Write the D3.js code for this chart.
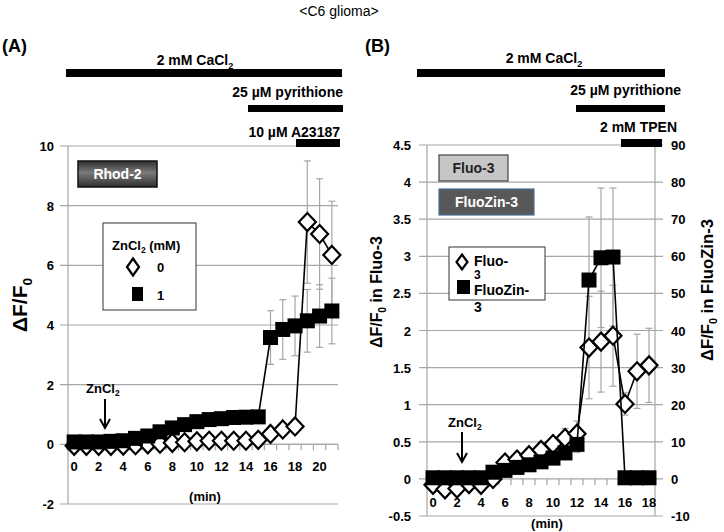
<!DOCTYPE html>
<html><head><meta charset="utf-8">
<script src="https://cdn.jsdelivr.net/npm/d3@7"></script>
<style>body{margin:0;background:#fff}svg{display:block}text{font-family:"Liberation Sans",Arial,sans-serif}</style>
</head><body><div id="chart"></div>
<script>
// ---------- DATA ----------
const timeA = [0,1,2,3,4,5,6,7,8,9,10,11,12,13,14,15,16,17,18,19,20,21];
const zn0 = [-0.05,-0.05,-0.05,-0.05,-0.04,-0.03,0,0.02,0.05,0.07,0.1,0.12,0.12,0.12,0.12,0.15,0.35,0.5,0.6,7.45,7.05,6.35];
const zn0Err = [0,0,0,0,0,0,0,0,0,0,0,0,0,0,0,0,0,0,0,2.05,1.85,1.8];
const zn1 = [0.08,0.08,0.08,0.1,0.12,0.2,0.28,0.42,0.55,0.66,0.76,0.83,0.86,0.9,0.91,0.92,3.58,3.85,3.97,4.14,4.3,4.47];
const zn1Err = [0,0,0,0,0,0,0,0,0,0,0,0,0,0,0,0,0.9,1.0,1.0,1.05,1.05,1.1];
const ticksA = [-2,0,2,4,6,8,10];
const xLabelsA = [0,2,4,6,8,10,12,14,16,18,20];

const timeB = [0,1,2,3,4,5,6,7,8,9,10,11,12,13,14,15,16,17,18];
const fluo3 = [-0.08,-0.14,-0.13,-0.07,-0.08,0,0.22,0.26,0.32,0.39,0.47,0.55,0.61,1.77,1.85,1.93,1.01,1.45,1.53];
const fluo3Err = [0,0,0,0,0,0,0,0,0,0.05,0.08,0.13,0.17,0.69,0.68,0.68,0.15,0.5,0.5];
const fluoZin3 = [0.3,0.3,0.3,0.3,0.3,1.8,2.3,3.1,3.8,4.6,5.6,7.0,9.3,53.6,59.6,59.8,0.3,0.3,0.3];
const fluoZin3Err = [0,0,0,0,0,0,0,0,0,0,1.2,1.6,2.2,17,18.8,18.6,0.3,0.3,0.3];
const ticksBL = [-0.5,0,0.5,1,1.5,2,2.5,3,3.5,4,4.5];
const ticksBR = [-10,0,10,20,30,40,50,60,70,80,90];
const xLabelsB = [0,2,4,6,8,10,12,14,16,18];

// ---------- SETUP ----------
const W = 724, H = 532;
const svg = d3.select("#chart").append("svg").attr("width", W).attr("height", H);
const GRID = "#a6a6a6", ERR = "#a6a6a6";
const defs = svg.append("defs");
const g1 = defs.append("linearGradient").attr("id","rhod").attr("x1",0).attr("y1",0).attr("x2",0).attr("y2",1);
g1.append("stop").attr("offset","0%").attr("stop-color","#2e2e2e");
g1.append("stop").attr("offset","45%").attr("stop-color","#7a7a7a");
g1.append("stop").attr("offset","100%").attr("stop-color","#2e2e2e");

function txt(x, y, s, opt = {}) {
  const t = svg.append("text").attr("x", x).attr("y", y)
    .attr("font-size", opt.size || 13).attr("font-weight", opt.weight || "bold")
    .attr("fill", opt.fill || "#000").attr("text-anchor", opt.anchor || "start");
  if (opt.rotate) t.attr("transform", `rotate(-90,${x},${y})`);
  if (opt.len) t.attr("textLength", opt.len).attr("lengthAdjust", "spacingAndGlyphs");
  return t.text(s);
}
function txtSub(x, y, main, sub, after, opt = {}) {
  const t = svg.append("text").attr("x", x).attr("y", y)
    .attr("font-size", opt.size || 13).attr("font-weight", "bold")
    .attr("fill", opt.fill || "#000").attr("text-anchor", opt.anchor || "start");
  if (opt.rotate) t.attr("transform", `rotate(-90,${x},${y})`);
  if (opt.len) t.attr("textLength", opt.len).attr("lengthAdjust", "spacingAndGlyphs");
  t.append("tspan").text(main);
  t.append("tspan").attr("font-size", (opt.size || 13) * 0.65).attr("dy", (opt.size || 13) * 0.25).text(sub);
  if (after) t.append("tspan").attr("dy", -(opt.size || 13) * 0.25).text(after);
  return t;
}
function bar(x1, x2, y, h) {
  svg.append("rect").attr("x", x1).attr("y", y).attr("width", x2 - x1).attr("height", h).attr("fill", "#000");
}
function diamond(g, cx, cy, w, h) {
  g.append("path").attr("d", `M${cx},${cy - h/2}L${cx + w/2},${cy}L${cx},${cy + h/2}L${cx - w/2},${cy}Z`)
    .attr("fill", "#fff").attr("stroke", "#000").attr("stroke-width", 2.2);
}
function arrow(x, y1, y2) {
  svg.append("line").attr("x1", x).attr("x2", x).attr("y1", y1).attr("y2", y2 - 2).attr("stroke", "#000").attr("stroke-width", 2);
  svg.append("path").attr("d", `M${x - 5},${y2 - 9}L${x},${y2}L${x + 5},${y2 - 9}`).attr("fill", "none").attr("stroke", "#000").attr("stroke-width", 2);
}

// Title
txt(339, 16, "<C6 glioma>", {size: 14, weight: "normal", anchor: "middle"});

// ---------- PANEL A ----------
const xA = d3.scaleBand().domain(timeA).range([68, 338]);
const cxA = d => xA(d) + xA.bandwidth() / 2;
const yA = d3.scaleLinear().domain([-2, 10]).range([504, 146]);
const gA = svg.append("g");

ticksA.forEach(t => {
  gA.append("line").attr("x1", 60).attr("x2", 338).attr("y1", yA(t)).attr("y2", yA(t)).attr("stroke", GRID).attr("stroke-width", 1.2);
  txt(54, yA(t) + 5, String(t), {anchor: "end"});
});
gA.append("line").attr("x1", 68).attr("x2", 68).attr("y1", yA(10)).attr("y2", yA(-2)).attr("stroke", GRID).attr("stroke-width", 1.2);
gA.append("line").attr("x1", 68).attr("x2", 338).attr("y1", yA(0)).attr("y2", yA(0)).attr("stroke", GRID).attr("stroke-width", 1.2);
timeA.concat([22]).forEach((d, i) => {
  const x = i < timeA.length ? xA(d) : 338;
  gA.append("line").attr("x1", x).attr("x2", x).attr("y1", yA(0)).attr("y2", yA(0) + 6).attr("stroke", GRID).attr("stroke-width", 1.2);
});
xLabelsA.forEach(d => txt(cxA(d), 471, String(d), {anchor: "middle"}));
txt(205, 501, "(min)", {anchor: "middle"});
txtSub(27, 305, "ΔF/F", "0", null, {size: 21, rotate: true, anchor: "middle"});

function errBars(g, xs, cx, ys, y, errs) {
  xs.forEach((d, i) => {
    if (!errs[i]) return;
    const x = cx(d), top = y(ys[i] + errs[i]), bot = y(ys[i] - errs[i]);
    g.append("line").attr("x1", x).attr("x2", x).attr("y1", top).attr("y2", bot).attr("stroke", ERR).attr("stroke-width", 1.2);
    [top, bot].forEach(yy => g.append("line").attr("x1", x - 3.5).attr("x2", x + 3.5).attr("y1", yy).attr("y2", yy).attr("stroke", ERR).attr("stroke-width", 1.2));
  });
}
errBars(gA, timeA, cxA, zn0, yA, zn0Err);
errBars(gA, timeA, cxA, zn1, yA, zn1Err);

const lineA0 = d3.line().x((d, i) => cxA(timeA[i])).y(d => yA(d));
gA.append("path").attr("d", lineA0(zn0)).attr("fill", "none").attr("stroke", "#000").attr("stroke-width", 1.6);
zn0.forEach((v, i) => diamond(gA, cxA(timeA[i]), yA(v), 17, 18));
gA.append("path").attr("d", lineA0(zn1)).attr("fill", "none").attr("stroke", "#000").attr("stroke-width", 1.6);
zn1.forEach((v, i) => gA.append("rect").attr("x", cxA(timeA[i]) - 7.5).attr("y", yA(v) - 7.5).attr("width", 15).attr("height", 15).attr("fill", "#000"));

// annotations A
txt(2, 52, "(A)", {size: 18});
txtSub(195, 65, "2 mM CaCl", "2", null, {size: 14, anchor: "middle"});
bar(66, 342, 69, 8);
txt(343, 97, "25 µM pyrithione", {size: 14, anchor: "end"});
bar(248, 343, 105, 7);
txt(340, 137, "10 µM A23187", {size: 14, anchor: "end"});
bar(296, 340, 139, 8);
svg.append("rect").attr("x", 78).attr("y", 161).attr("width", 79).attr("height", 26).attr("fill", "url(#rhod)").attr("stroke", "#111").attr("stroke-width", 1.5);
txt(117.5, 179, "Rhod-2", {size: 14, fill: "#fff", anchor: "middle"});
svg.append("rect").attr("x", 103).attr("y", 223).attr("width", 93).attr("height", 87).attr("fill", "#fff").attr("stroke", "#333").attr("stroke-width", 1);
txtSub(112, 250, "ZnCl", "2", " (mM)", {size: 13});
diamond(svg, 133, 267, 12, 17);
txt(157, 272, "0", {size: 13});
svg.append("rect").attr("x", 132).attr("y", 287).attr("width", 11).attr("height", 14).attr("fill", "#000");
txt(157, 300, "1", {size: 13});
txtSub(86, 393, "ZnCl", "2", null, {size: 13});
arrow(105, 399, 428);

// ---------- PANEL B ----------
const xB = d3.scaleBand().domain(timeB).range([427, 655]);
const cxB = d => xB(d) + xB.bandwidth() / 2;
const yBL = d3.scaleLinear().domain([-0.5, 4.5]).range([516, 145]);
const yBR = d3.scaleLinear().domain([-10, 90]).range([516, 145]);
const gB = svg.append("g");

ticksBL.forEach(t => {
  gB.append("line").attr("x1", 419).attr("x2", 663).attr("y1", yBL(t)).attr("y2", yBL(t)).attr("stroke", GRID).attr("stroke-width", 1.2);
  txt(411, yBL(t) + 5, String(t), {anchor: "end"});
});
ticksBR.forEach(t => txt(671, yBR(t) + 5, String(t), {anchor: "start"}));
gB.append("line").attr("x1", 427).attr("x2", 427).attr("y1", yBL(4.5)).attr("y2", yBL(-0.5)).attr("stroke", GRID).attr("stroke-width", 1.2);
gB.append("line").attr("x1", 655).attr("x2", 655).attr("y1", yBL(4.5)).attr("y2", yBL(-0.5)).attr("stroke", GRID).attr("stroke-width", 1.2);
timeB.concat([19]).forEach((d, i) => {
  const x = i < timeB.length ? xB(d) : 655;
  gB.append("line").attr("x1", x).attr("x2", x).attr("y1", yBL(0)).attr("y2", yBL(0) + 6).attr("stroke", GRID).attr("stroke-width", 1.2);
});
xLabelsB.forEach(d => txt(cxB(d), 507, String(d), {anchor: "middle"}));
txt(547, 528, "(min)", {anchor: "middle"});

errBars(gB, timeB, cxB, fluo3, yBL, fluo3Err);
errBars(gB, timeB, cxB, fluoZin3, yBR, fluoZin3Err);

const lineB3 = d3.line().x((d, i) => cxB(timeB[i])).y(d => yBL(d));
const lineBZ = d3.line().x((d, i) => cxB(timeB[i])).y(d => yBR(d));
gB.append("path").attr("d", lineB3(fluo3)).attr("fill", "none").attr("stroke", "#000").attr("stroke-width", 1.6);
fluo3.forEach((v, i) => diamond(gB, cxB(timeB[i]), yBL(v), 17, 18));
gB.append("path").attr("d", lineBZ(fluoZin3)).attr("fill", "none").attr("stroke", "#000").attr("stroke-width", 1.6);
fluoZin3.forEach((v, i) => gB.append("rect").attr("x", cxB(timeB[i]) - 7.5).attr("y", yBR(v) - 7.5).attr("width", 15).attr("height", 15).attr("fill", "#000"));

// annotations B
txt(365, 52, "(B)", {size: 18});
txtSub(544, 63, "2 mM CaCl", "2", null, {size: 14, anchor: "middle"});
bar(417, 665, 69, 8);
txt(681, 95, "25 µM pyrithione", {size: 14, anchor: "end"});
bar(576, 665, 105, 7);
txt(677, 132, "2 mM  TPEN", {size: 14, anchor: "end"});
bar(621, 662, 139, 8);
svg.append("rect").attr("x", 439).attr("y", 155).attr("width", 69).attr("height", 26).attr("fill", "#c6c6c6").attr("stroke", "#444").attr("stroke-width", 1.2);
txt(473.5, 173, "Fluo-3", {size: 14, fill: "#222", anchor: "middle"});
svg.append("rect").attr("x", 439).attr("y", 189).attr("width", 95).attr("height", 26).attr("fill", "#585858").attr("stroke", "#4a6f9a").attr("stroke-width", 1.2);
txt(486.5, 207, "FluoZin-3", {size: 14, fill: "#fff", anchor: "middle"});
svg.append("rect").attr("x", 449).attr("y", 247).attr("width", 96).attr("height", 53).attr("fill", "#fff").attr("stroke", "#333").attr("stroke-width", 1);
diamond(svg, 462, 262, 11, 15);
txt(474, 266, "Fluo-", {size: 14});
txt(474, 279, "3", {size: 12});
svg.append("rect").attr("x", 457).attr("y", 280).attr("width", 13).attr("height", 14).attr("fill", "#000");
txt(474, 295, "FluoZin-", {size: 14});
txt(474, 312, "3", {size: 14});
txtSub(448, 427, "ZnCl", "2", null, {size: 13});
arrow(462, 432, 462);
txtSub(382, 292, "ΔF/F", "0", " in Fluo-3", {size: 17, rotate: true, anchor: "middle", len: 112});
txtSub(713, 290, "ΔF/F", "0", " in FluoZin-3", {size: 17, rotate: true, anchor: "middle", len: 142});
</script></body></html>
